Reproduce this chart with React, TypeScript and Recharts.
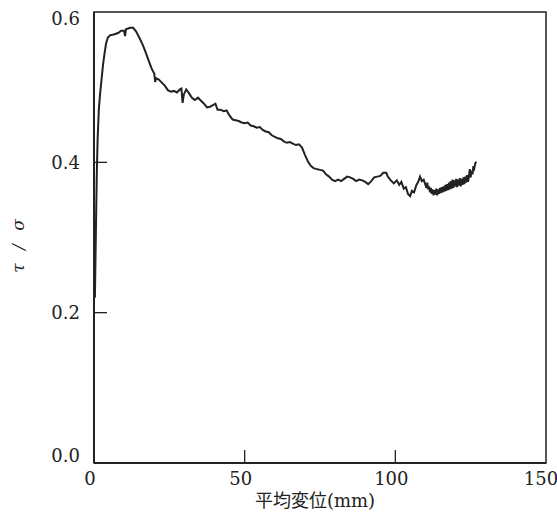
import React from "react";
import { LineChart, Line, XAxis, YAxis, ReferenceArea, Label } from "recharts";

// displacement (mm) and shear ratio
const dispX = [
  0.3, 0.6, 0.9, 1.2, 1.6, 2.0, 2.5, 3.0, 3.5, 4.0, 4.6, 5.3, 6.5, 8, 9, 10, 10.3, 10.6, 12, 13,
  14, 15, 16, 17, 18, 19, 19.6, 20, 20.3, 20.6, 21.5, 22.5, 23.5, 24.5, 25.5, 26.5, 27.5, 28.5, 29, 29.4,
  29.8, 30.6, 31.5, 32.5, 33.5, 34.5, 35.5, 36.5, 37.5, 38.5, 39.5, 40.3, 41, 42, 43, 44, 45, 46, 47, 48,
  49, 50, 51, 52, 53, 54, 55, 56, 57, 58, 59, 60, 61, 62, 63, 64, 65, 66, 67, 68,
  69, 70, 71, 72, 73, 74, 75, 76, 77, 78, 79, 80, 81, 82, 83, 84, 85, 86, 87, 88,
  89, 90, 91, 92, 93, 94, 95, 96, 97, 97.5, 98.5, 99.5, 100.5, 101.3, 102, 102.8, 103.5, 104.2, 104.9, 105.5,
  106.2, 107, 107.6, 108.2, 108.8, 109.4,
  110.0, 110.3, 110.6, 110.9, 111.2, 111.5, 111.8, 112.1, 112.4, 112.7, 113.0, 113.3, 113.6, 113.9, 114.2, 114.5,
  114.8, 115.1, 115.4, 115.7, 116.0, 116.3, 116.6, 116.9, 117.2, 117.5, 117.8, 118.1, 118.4, 118.7, 119.0, 119.3,
  119.6, 119.9, 120.2, 120.5, 120.8, 121.1, 121.4, 121.7, 122.0, 122.3, 122.6, 122.9, 123.2, 123.5, 123.8, 124.1,
  124.4, 124.7, 125.0, 125.3, 125.6, 125.9, 126.2, 126.5, 126.8,
];

const ratio = [
  0.22, 0.3, 0.38, 0.43, 0.47, 0.49, 0.51, 0.53, 0.545, 0.558, 0.566, 0.569, 0.57, 0.572, 0.575, 0.575, 0.568, 0.577, 0.579, 0.579,
  0.574, 0.566, 0.558, 0.548, 0.537, 0.526, 0.521, 0.518, 0.507, 0.512, 0.51, 0.506, 0.502, 0.496, 0.494, 0.495, 0.493, 0.497, 0.498, 0.479,
  0.49, 0.497, 0.492, 0.486, 0.483, 0.486, 0.482, 0.478, 0.473, 0.474, 0.476, 0.478, 0.47, 0.47, 0.468, 0.469, 0.462, 0.457, 0.456, 0.455,
  0.453, 0.452, 0.453, 0.449, 0.448, 0.446, 0.447, 0.443, 0.441, 0.44, 0.436, 0.434, 0.432, 0.431, 0.428, 0.426, 0.427, 0.425, 0.423, 0.424,
  0.42, 0.41, 0.401, 0.395, 0.392, 0.391, 0.39, 0.389, 0.384, 0.381, 0.377, 0.375, 0.377, 0.375, 0.378, 0.381, 0.38, 0.378, 0.375, 0.377,
  0.376, 0.374, 0.371, 0.375, 0.38, 0.381, 0.382, 0.386, 0.386, 0.381, 0.376, 0.372, 0.376, 0.37, 0.374, 0.365, 0.367, 0.358, 0.355, 0.362,
  0.36, 0.37, 0.374, 0.381, 0.375, 0.377,
  0.370, 0.366, 0.373, 0.364, 0.368, 0.360, 0.366, 0.358, 0.364, 0.356, 0.363, 0.357, 0.365, 0.356, 0.364, 0.358,
  0.366, 0.359, 0.367, 0.360, 0.368, 0.361, 0.370, 0.362, 0.371, 0.363, 0.373, 0.364, 0.375, 0.365, 0.377, 0.366,
  0.376, 0.368, 0.378, 0.367, 0.377, 0.369, 0.379, 0.368, 0.378, 0.370, 0.380, 0.371, 0.381, 0.373, 0.383, 0.374,
  0.380, 0.391, 0.380, 0.389, 0.384, 0.395, 0.392, 0.398, 0.401,
];

const xTicks = [0, 50, 100, 150];
const yTicks = [0, 0.2, 0.4, 0.6];

const data = dispX.map((x, i) => ({ x, y: ratio[i] }));

const INK = "#222";
const SERIF = "'DejaVu Serif', serif";

const XTick = (props: any) => {
  const { x, y, payload } = props;
  const v = payload.value;
  return (
    <g>
      {v > 0 && v < 150 && <line x1={x} y1={y} x2={x} y2={y - 13} stroke={INK} strokeWidth={1.3} />}
      <text x={x - 4} y={y + 22} textAnchor="middle" fontFamily={SERIF} fontSize={18} fill={INK}>
        {v}
      </text>
    </g>
  );
};

const YTick = (props: any) => {
  const { x, y, payload } = props;
  const v = payload.value;
  let shift = 0;
  if (v === 0) shift = -8;
  if (v === 0.6) shift = 6;
  return (
    <g>
      {v > 0 && v < 0.6 && <line x1={x} y1={y} x2={x + 13} y2={y} stroke={INK} strokeWidth={1.3} />}
      <text x={x - 14} y={y + shift + 6.5} textAnchor="end" fontFamily={SERIF} fontSize={18} fill={INK}>
        {v.toFixed(1)}
      </text>
    </g>
  );
};

export default function App() {
  return (
    <div style={{ position: "absolute", left: 0, top: 0, background: "#fff" }}>
      <LineChart width={557} height={515} data={data} margin={{ top: 12, right: 11, bottom: 0, left: 0 }}>
        <XAxis
          type="number"
          dataKey="x"
          domain={[0, 150]}
          ticks={xTicks}
          height={52}
          tickSize={0}
          tickMargin={0}
          tickLine={false}
          axisLine={{ stroke: INK, strokeWidth: 2 }}
          tick={<XTick />}
        >
          <Label
            content={() => (
              <text x={315} y={507} textAnchor="middle" fontFamily="'DejaVu Serif', 'Noto Sans CJK JP', serif" fontSize={18} fill={INK}>
                平均変位(mm)
              </text>
            )}
          />
        </XAxis>
        <YAxis
          type="number"
          domain={[0, 0.6]}
          ticks={yTicks}
          width={94}
          tickSize={0}
          tickMargin={0}
          tickLine={false}
          axisLine={{ stroke: INK, strokeWidth: 2 }}
          tick={<YTick />}
        >
          <Label
            content={() => (
              <text
                transform="translate(24,244) rotate(-90)"
                textAnchor="middle"
                fontFamily={SERIF}
                fontStyle="italic"
                fontSize={17}
                letterSpacing={4}
                fill={INK}
              >
                τ / σ
              </text>
            )}
          />
        </YAxis>
        <ReferenceArea x1={0} x2={150} y1={0} y2={0.6} fill="none" stroke={INK} strokeWidth={1.5} />
        <Line
          type="linear"
          dataKey="y"
          stroke={INK}
          strokeWidth={2}
          dot={false}
          isAnimationActive={false}
        />
      </LineChart>
    </div>
  );
}
